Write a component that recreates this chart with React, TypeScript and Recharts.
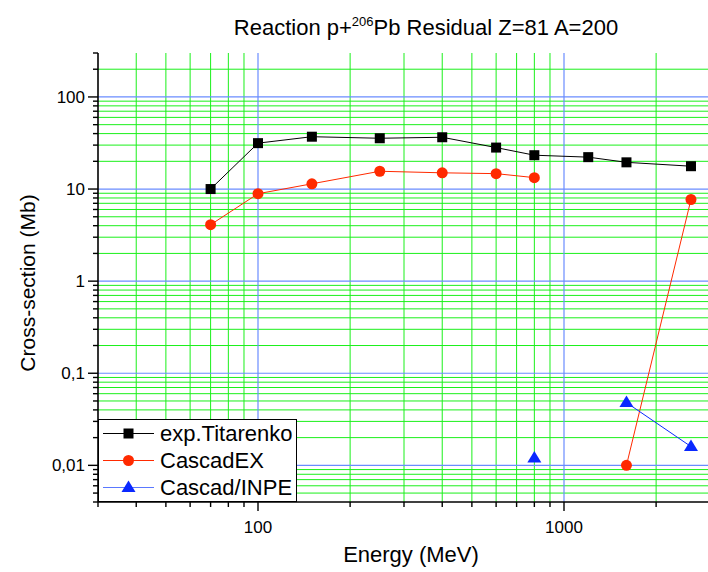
import React from 'react';
import { LineChart, Line, XAxis, YAxis, ReferenceLine, Legend } from 'recharts';

// ---- data ----
const energies = [70, 100, 150, 250, 400, 600, 800, 1200, 1600, 2600];
const expTitarenko = [10.0, 31.5, 37.0, 35.6, 36.5, 28.2, 23.3, 22.2, 19.5, 17.7];
const cascadEX: (number | null)[] = [4.1, 8.9, 11.4, 15.6, 15.0, 14.7, 13.3, null, 0.01, 7.7];
const cascadINPE: (number | null)[] = [null, null, null, null, null, null, 0.012, null, 0.048, 0.016];

const seriesNames = ['exp.Titarenko', 'CascadEX', 'Cascad/INPE'];

const xMajorTicks = [100, 1000];
const xMinorTicks = [30, 40, 50, 60, 70, 80, 90, 200, 300, 400, 500, 600, 700, 800, 900, 2000, 3000];
const yMajorTicks = [0.01, 0.1, 1, 10, 100];
const yMinorTicks = [
  0.004, 0.005, 0.006, 0.007, 0.008, 0.009,
  0.02, 0.03, 0.04, 0.05, 0.06, 0.07, 0.08, 0.09,
  0.2, 0.3, 0.4, 0.5, 0.6, 0.7, 0.8, 0.9,
  2, 3, 4, 5, 6, 7, 8, 9,
  20, 30, 40, 50, 60, 70, 80, 90,
  200, 300,
];
const yTickLabels: Record<string, string> = {
  '0.01': '0,01',
  '0.1': '0,1',
  '1': '1',
  '10': '10',
  '100': '100',
};
const xTickLabels: Record<string, string> = { '100': '100', '1000': '1000' };

const xDomain = [30, 3000];
const yDomain = [0.004, 300];

const data = energies.map((e, i) => ({
  e,
  exp: expTitarenko[i],
  ex: cascadEX[i],
  inpe: cascadINPE[i],
}));

const FONT = '"Liberation Sans", Arial, sans-serif';
const MAJOR_GRID = '#6a8cff';
const MINOR_GRID = '#1af01a';
const RED = '#ff2a00';
const BLUE = '#0a28ff';

const YTick = (props: any) => {
  const { x, y, payload } = props;
  const v = payload.value;
  const major = yMajorTicks.includes(v);
  return (
    <g>
      <line x1={x} x2={x - (major ? 10 : 5)} y1={y} y2={y} stroke="#000" strokeWidth={1.4} />
      {major && (
        <text x={x - 13} y={y} dy="0.36em" textAnchor="end" fontSize={17} fontFamily={FONT} fill="#000">
          {yTickLabels[String(v)]}
        </text>
      )}
    </g>
  );
};

const XTick = (props: any) => {
  const { x, y, payload } = props;
  const v = payload.value;
  const major = xMajorTicks.includes(v);
  return (
    <g>
      <line x1={x} x2={x} y1={y} y2={y + (major ? 9 : 5)} stroke="#000" strokeWidth={1.4} />
      {major && (
        <text x={x} y={y + 31} textAnchor="middle" fontSize={17} fontFamily={FONT} fill="#000">
          {xTickLabels[String(v)]}
        </text>
      )}
    </g>
  );
};

const SquareDot = (p: any) => {
  if (p.cx == null || p.cy == null || p.value == null) return <g key={p.key ?? p.index} />;
  return <rect key={p.key ?? p.index} x={p.cx - 5} y={p.cy - 5} width={10} height={10} fill="#000" />;
};
const CircleDot = (p: any) => {
  if (p.cx == null || p.cy == null || p.value == null) return <g key={p.key ?? p.index} />;
  return <circle key={p.key ?? p.index} cx={p.cx} cy={p.cy} r={5.5} fill={RED} />;
};
const TriDot = (p: any) => {
  if (p.cx == null || p.cy == null || p.value == null) return <g key={p.key ?? p.index} />;
  const { cx, cy } = p;
  return (
    <polygon
      key={p.key ?? p.index}
      points={`${cx},${cy - 7} ${cx - 7},${cy + 4.5} ${cx + 7},${cy + 4.5}`}
      fill={BLUE}
    />
  );
};

const legendItems = [
  { name: seriesNames[0], line: '#000', marker: 'square' },
  { name: seriesNames[1], line: RED, marker: 'circle' },
  { name: seriesNames[2], line: '#5a78ff', marker: 'triangle' },
];

const LegendBox = () => (
  <div
    style={{
      width: 199,
      height: 83,
      boxSizing: 'border-box',
      border: '1.5px solid #000',
      background: '#fff',
      fontFamily: FONT,
    }}
  >
    {legendItems.map((it) => (
      <div key={it.name} style={{ height: 27, display: 'flex', alignItems: 'center' }}>
        <svg width={61} height={27} style={{ display: 'block', flex: 'none' }}>
          <line x1={4} x2={55} y1={13.5} y2={13.5} stroke={it.line} strokeWidth={1.2} />
          {it.marker === 'square' && <rect x={24.5} y={8.5} width={10} height={10} fill="#000" />}
          {it.marker === 'circle' && <circle cx={29.5} cy={13.5} r={5.5} fill={RED} />}
          {it.marker === 'triangle' && <polygon points="29.5,6.5 22.5,18 36.5,18" fill={BLUE} />}
        </svg>
        <span style={{ fontSize: 22, lineHeight: '27px', color: '#000', whiteSpace: 'nowrap' }}>{it.name}</span>
      </div>
    ))}
  </div>
);

export default function App() {
  return (
    <div style={{ position: 'relative', width: 708, height: 572, overflow: 'hidden', background: '#fff' }}>
      <style>{`html,body{margin:0;padding:0;overflow:hidden;background:#fff}`}</style>
      <LineChart
        width={720}
        height={572}
        data={data}
        margin={{ top: 53, right: 10, bottom: 0, left: 0 }}
      >
        <XAxis
          dataKey="e"
          type="number"
          scale="log"
          domain={xDomain}
          allowDataOverflow
          ticks={[...xMinorTicks, ...xMajorTicks].sort((a, b) => a - b)}
          interval={0}
          height={70}
          tickSize={0}
          tickMargin={0}
          tick={<XTick />}
          axisLine={{ stroke: '#000', strokeWidth: 1.6 }}
        />
        <XAxis
          xAxisId="top"
          orientation="top"
          dataKey="e"
          type="number"
          scale="log"
          domain={xDomain}
          allowDataOverflow
          height={0}
          tick={false}
          tickLine={false}
          axisLine={{ stroke: '#000', strokeWidth: 1.6 }}
        />
        <YAxis
          type="number"
          scale="log"
          domain={yDomain}
          allowDataOverflow
          ticks={[...yMinorTicks, ...yMajorTicks].sort((a, b) => a - b)}
          interval={0}
          width={98}
          tickSize={0}
          tickMargin={0}
          tick={<YTick />}
          axisLine={{ stroke: '#000', strokeWidth: 1.6 }}
        />
        {xMinorTicks.filter((v) => v > xDomain[0] && v < xDomain[1]).map((v) => (
          <ReferenceLine key={'xm' + v} x={v} stroke={MINOR_GRID} strokeWidth={1} />
        ))}
        {yMinorTicks.filter((v) => v > yDomain[0] && v < yDomain[1]).map((v) => (
          <ReferenceLine key={'ym' + v} y={v} stroke={MINOR_GRID} strokeWidth={1} />
        ))}
        {xMajorTicks.map((v) => (
          <ReferenceLine key={'xM' + v} x={v} stroke={MAJOR_GRID} strokeWidth={1.2} />
        ))}
        {yMajorTicks.map((v) => (
          <ReferenceLine key={'yM' + v} y={v} stroke={MAJOR_GRID} strokeWidth={1.2} />
        ))}
        <Line
          dataKey="exp"
          name={seriesNames[0]}
          stroke="#000"
          strokeWidth={1}
          dot={SquareDot}
          activeDot={false}
          isAnimationActive={false}
        />
        <Line
          dataKey="ex"
          name={seriesNames[1]}
          stroke={RED}
          strokeWidth={1}
          dot={CircleDot}
          activeDot={false}
          isAnimationActive={false}
        />
        <Line
          dataKey="inpe"
          name={seriesNames[2]}
          stroke={BLUE}
          strokeWidth={1}
          dot={TriDot}
          activeDot={false}
          isAnimationActive={false}
        />
        <Legend
          layout="vertical"
          align="center"
          verticalAlign="middle"
          content={<LegendBox />}
          wrapperStyle={{ position: 'absolute', left: 98, top: 419, width: 199, height: 83, margin: 0, padding: 0 }}
        />
      </LineChart>
      <svg
        width={708}
        height={572}
        style={{ position: 'absolute', left: 0, top: 0, pointerEvents: 'none' }}
        fontFamily={FONT}
      >
        <text x={426} y={35} textAnchor="middle" fontSize={22} fill="#000">
          Reaction p+
          <tspan dy={-9} fontSize={13}>206</tspan>
          <tspan dy={9}>Pb Residual Z=81 A=200</tspan>
        </text>
        <text x={411} y={562} textAnchor="middle" fontSize={22} fill="#000">
          Energy (MeV)
        </text>
        <text
          transform="translate(35,283) rotate(-90)"
          x={0}
          y={0}
          textAnchor="middle"
          fontSize={21}
          fill="#000"
        >
          Cross-section (Mb)
        </text>
      </svg>
    </div>
  );
}
